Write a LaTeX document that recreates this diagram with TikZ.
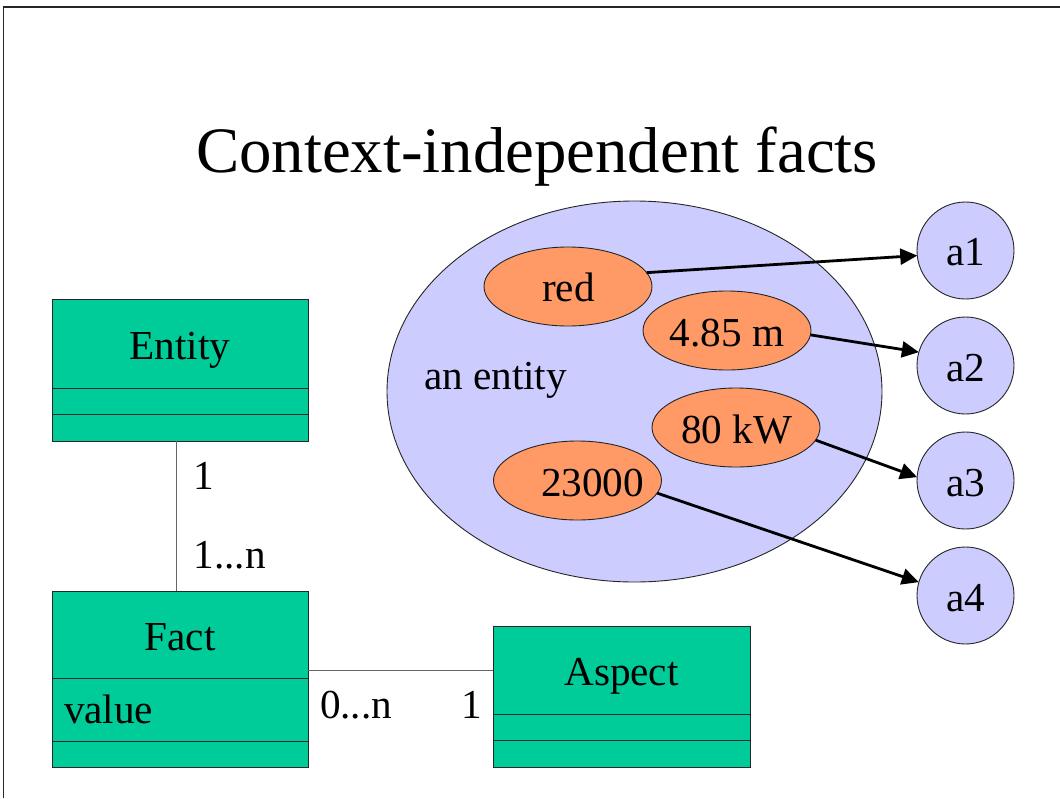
\documentclass[tikz,border=0pt]{standalone}
\usepackage{fontspec}
\setmainfont{Liberation Serif}
\usetikzlibrary{shapes.geometric,arrows.meta}
\definecolor{entityfill}{RGB}{204,204,255}
\definecolor{valuefill}{RGB}{255,153,102}
\definecolor{classfill}{RGB}{0,204,153}
\begin{document}
\begin{tikzpicture}[x=1pt,y=-1pt,
  every node/.style={font=\fontsize{41.2}{49}\selectfont, inner sep=0pt, outer sep=0pt},
  classbox/.style={draw=black!85, line width=0.9pt, fill=classfill, rectangle, anchor=north west},
  divider/.style={draw=black!85, line width=0.9pt},
  valueoval/.style={draw=black!85, line width=0.9pt, fill=valuefill, ellipse, minimum width=168pt, minimum height=79pt},
  aspectdot/.style={draw=black!85, line width=0.9pt, fill=entityfill, circle, minimum size=97pt},
  link/.style={line width=2.8pt, -{Triangle[length=17pt,width=16pt]}},
  assoc/.style={draw=black!60, line width=1pt},
  lbl/.style={anchor=base west},
  ctr/.style={anchor=base},
]
% canvas and slide frame
\useasboundingbox (0,0) rectangle (1060,798);
\fill[white] (0,0) rectangle (1060,798);
\draw[line width=1.5pt, black!85] (3.5,798) -- (3.5,7) -- (1060,7);

% title
\node[ctr, font=\fontsize{64.8}{78}\selectfont] (title) at (537,172) {Context-independent facts};

% the entity with its values
\node[ellipse, draw=black!85, line width=0.9pt, fill=entityfill,
      minimum width=495pt, minimum height=381pt] (entity) at (634.5,391.5) {};
\node[lbl] (entlabel) at (424,389) {an entity};

\node[valueoval] (vred) at (568,286.5) {};
\node[ctr] (tred) at (568.5,301) {red};
\node[valueoval] (vlen) at (727,330.5) {};
\node[ctr] (tlen) at (727,346) {4.85 m};
\node[valueoval] (vpow) at (736,427.5) {};
\node[ctr] (tpow) at (736.5,443) {80 kW};
\node[valueoval] (vnum) at (577.5,480.5) {};
\node[ctr] (tnum) at (592.5,496) {23000};

% aspects
\node[aspectdot] (a1) at (965.5,250.5) {};
\node[ctr] (ta1) at (965.5,265.5) {a1};
\node[aspectdot] (a2) at (965.5,365.5) {};
\node[ctr] (ta2) at (965.5,381) {a2};
\node[aspectdot] (a3) at (965.5,480.5) {};
\node[ctr] (ta3) at (965.5,496) {a3};
\node[aspectdot] (a4) at (965.5,595.5) {};
\node[ctr] (ta4) at (965.5,611) {a4};

\draw[link] (vred.10) -- (a1.186);
\draw[link] (vlen.-3) -- (a2.164);
\draw[link] (vpow.-9) -- (a3.176);
\draw[link] (vnum.-9) -- (a4.164);

% class diagram
\node[classbox, minimum width=256pt, minimum height=142pt] (entityclass) at (52,299) {};
\draw[divider] (entityclass.west |- 0,388) -- (entityclass.east |- 0,388);
\draw[divider] (entityclass.west |- 0,414) -- (entityclass.east |- 0,414);
\node[ctr] (entityname) at (180,359) {Entity};

\node[classbox, minimum width=256pt, minimum height=176pt] (factclass) at (52,591) {};
\draw[divider] (factclass.west |- 0,678) -- (factclass.east |- 0,678);
\draw[divider] (factclass.west |- 0,741) -- (factclass.east |- 0,741);
\node[ctr] (factname) at (180,650) {Fact};
\node[lbl] (factattr) at (64,723) {value};

\node[classbox, minimum width=257pt, minimum height=141pt] (aspectclass) at (493,626) {};
\draw[divider] (aspectclass.west |- 0,714) -- (aspectclass.east |- 0,714);
\draw[divider] (aspectclass.west |- 0,740) -- (aspectclass.east |- 0,740);
\node[ctr] (aspectname) at (621.5,685) {Aspect};

% associations
\draw[assoc] ([xshift=-4pt]entityclass.south) -- ([xshift=-4pt]factclass.north);
\draw[assoc] ([yshift=9pt]factclass.east) coordinate (fa) -- (fa -| aspectclass.west);

% multiplicities (tight three-dot ellipsis)
\node[lbl] (m1) at (193.5,489) {1};
\node[lbl] (m2) at (193.5,568) {1...n};
\node[lbl] (m3) at (320,718) {0...n};
\node[lbl] (m4) at (461,718) {1};
\end{tikzpicture}
\end{document}
